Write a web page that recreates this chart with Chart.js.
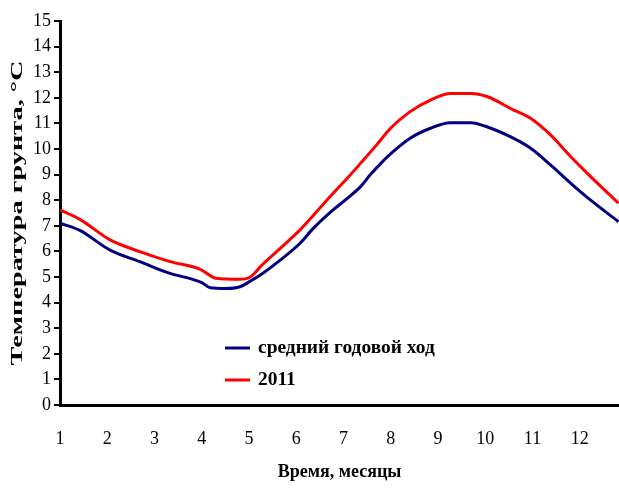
<!DOCTYPE html>
<html>
<head>
<meta charset="utf-8">
<script src="https://cdn.jsdelivr.net/npm/chart.js@4"></script>
<style>
  html, body { margin: 0; padding: 0; background: #fff; }
</style>
</head>
<body>
<canvas id="soilTempChart" width="619" height="491"></canvas>
<script>
// средний годовой ход (x = месяц, дробный)
const avgMonths = [1.0, 1.42, 2.06, 2.69, 3.33, 3.82, 4.0, 4.18, 4.5, 4.81, 5.08, 5.24, 5.66, 6.08, 6.36, 6.78, 7.08, 7.36, 7.57, 7.78, 7.99, 8.41, 8.84, 9.26, 9.69, 10.12, 10.53, 10.96, 11.38, 11.81, 12.23, 12.82]
const avgTemp   = [7.1, 6.82, 6.05, 5.6, 5.14, 4.9, 4.78, 4.58, 4.55, 4.62, 4.9, 5.08, 5.66, 6.32, 6.9, 7.62, 8.07, 8.53, 9.0, 9.42, 9.8, 10.42, 10.81, 11.03, 11.03, 10.81, 10.48, 10.03, 9.38, 8.66, 8.0, 7.16]

// 2011
const months2011 = [1.0, 1.42, 2.06, 2.69, 3.33, 3.97, 4.1, 4.3, 4.81, 5.0, 5.12, 5.24, 5.66, 6.08, 6.36, 6.78, 7.08, 7.36, 7.71, 7.99, 8.41, 8.84, 9.26, 9.69, 10.05, 10.53, 10.96, 11.38, 11.81, 12.23, 12.82]
const temp2011   = [7.62, 7.25, 6.45, 5.99, 5.6, 5.3, 5.15, 4.95, 4.91, 4.97, 5.15, 5.4, 6.12, 6.84, 7.4, 8.27, 8.86, 9.44, 10.18, 10.8, 11.46, 11.91, 12.17, 12.17, 12.04, 11.59, 11.2, 10.55, 9.7, 8.92, 7.88]

const monthTicks = [1, 2, 3, 4, 5, 6, 7, 8, 9, 10, 11, 12]
const seriesNames = ['средний годовой ход', '2011']
const seriesColors = ['#000080', '#ff0000']
const yTitle = 'Температура грунта, °C'
const xTitle = 'Время, месяцы'

const serif = "'Liberation Serif', 'Times New Roman', serif"

function toPoints(xs, ys) {
    return xs.map((x, i) => ({ x: x, y: ys[i] }))
}

// подпись оси Y, растянутая по длине, как в оригинале
const yTitlePlugin = {
    id: 'yTitle',
    afterDraw(chart) {
        const ctx = chart.ctx
        const area = chart.chartArea
        ctx.save()
        ctx.translate(18, (area.top + area.bottom) / 2)
        ctx.rotate(-Math.PI / 2)
        ctx.font = 'bold 17px ' + serif
        const w = ctx.measureText(yTitle).width
        ctx.scale(305 / w, 1)
        ctx.fillStyle = '#000'
        ctx.textAlign = 'center'
        ctx.textBaseline = 'middle'
        ctx.fillText(yTitle, 0, 0)
        ctx.restore()
    }
}

// легенда внутри области графика
const innerLegend = {
    id: 'innerLegend',
    afterDatasetsDraw(chart, args, opts) {
        const ctx = chart.ctx
        ctx.save()
        chart.data.datasets.forEach((ds, i) => {
            const y = opts.y + i * opts.rowGap
            ctx.strokeStyle = ds.borderColor
            ctx.lineWidth = 3
            ctx.beginPath()
            ctx.moveTo(opts.x, y)
            ctx.lineTo(opts.x + 25, y)
            ctx.stroke()
            ctx.save()
            ctx.translate(opts.x + 33, y)
            ctx.scale(1.08, 1.1)
            ctx.font = 'bold 18px ' + serif
            ctx.fillStyle = '#000'
            ctx.textBaseline = 'middle'
            ctx.fillText(ds.label, 0, 0)
            ctx.restore()
        })
        ctx.restore()
    }
}

const data = {
    datasets: [
        {
            label: seriesNames[0],
            data: toPoints(avgMonths, avgTemp),
            borderColor: seriesColors[0],
            borderWidth: 3,
            pointRadius: 0,
            cubicInterpolationMode: 'monotone',
            fill: false
        },
        {
            label: seriesNames[1],
            data: toPoints(months2011, temp2011),
            borderColor: seriesColors[1],
            borderWidth: 3,
            pointRadius: 0,
            cubicInterpolationMode: 'monotone',
            fill: false
        }
    ]
}

const config = {
    type: 'line',
    data: data,
    options: {
        responsive: false,
        animation: false,
        layout: { padding: { top: 21, right: 0, bottom: 0, left: 0 } },
        plugins: {
            legend: { display: false },
            tooltip: { enabled: false },
            innerLegend: { x: 225, y: 348, rowGap: 32 }
        },
        scales: {
            x: {
                type: 'linear',
                min: 1,
                max: 12.83,
                afterBuildTicks: (scale) => {
                    scale.ticks = monthTicks.map(v => ({ value: v }))
                },
                afterFit: (scale) => { scale.height = 86 },
                grid: { drawOnChartArea: false, drawTicks: false },
                border: { display: true, color: '#000', width: 3 },
                ticks: {
                    padding: 23,
                    color: '#000',
                    font: { family: serif, size: 18 },
                    maxRotation: 0,
                    callback: (v) => String(v)
                },
                title: {
                    display: true,
                    text: xTitle,
                    color: '#000',
                    font: { family: serif, size: 18, weight: 'bold' },
                    padding: { top: 0, bottom: 8 }
                }
            },
            y: {
                min: 0,
                max: 15,
                afterFit: (scale) => { scale.width = 60 },
                grid: {
                    drawOnChartArea: false,
                    drawTicks: true,
                    tickLength: 6,
                    color: '#000',
                    lineWidth: 2
                },
                border: { display: true, color: '#000', width: 3 },
                ticks: {
                    stepSize: 1,
                    padding: 3,
                    color: '#000',
                    font: { family: serif, size: 18 }
                }
            }
        }
    },
    plugins: [yTitlePlugin, innerLegend]
}

new Chart(document.getElementById('soilTempChart'), config)
</script>
</body>
</html>
